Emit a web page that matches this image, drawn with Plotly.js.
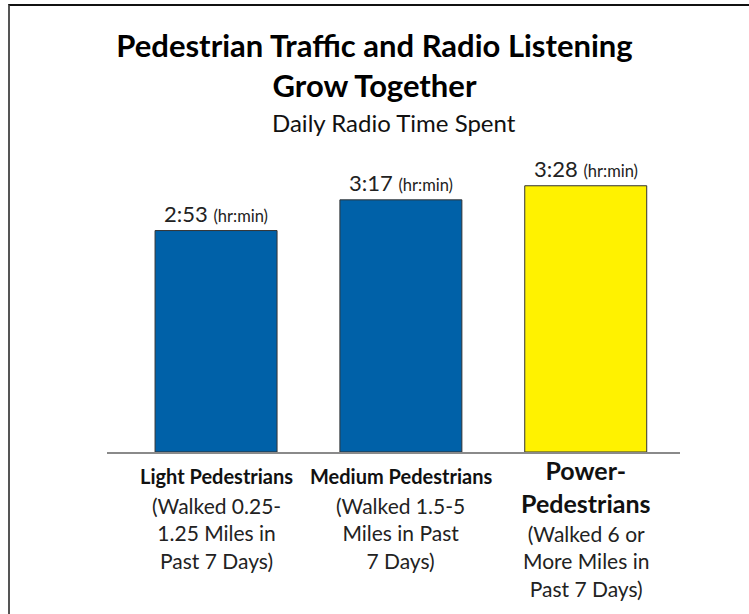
<!DOCTYPE html>
<html>
<head>
<meta charset="utf-8">
<script src="https://cdn.plot.ly/plotly-3.0.1.min.js"></script>
<style>
  html, body { margin: 0; padding: 0; background: #fff; }
  #wrap { position: relative; width: 749px; height: 614px; overflow: hidden; }
  #chart { width: 749px; height: 614px; }
  #frame { position: absolute; left: 8px; top: 4px; width: 760px; height: 640px;
           border-left: 2px solid #555; border-top: 2px solid #111; pointer-events: none; }
</style>
</head>
<body>
<div id="wrap">
  <div id="chart"></div>
  <div id="frame"></div>
</div>
<script>
// ---- data ----
const categories = ['Light Pedestrians', 'Medium Pedestrians', 'Power-Pedestrians'];
const minutesPerDay = [173, 197, 208];           // 2:53, 3:17, 3:28
const timeLabels = ['2:53', '3:17', '3:28'];
const unitLabel = '(hr:min)';
const catHeaders = ['Light Pedestrians', 'Medium Pedestrians', 'Power-<br>Pedestrians'];
const catDetails = [
  '(Walked 0.25-<br>1.25 Miles in<br>Past 7 Days)',
  '(Walked 1.5-5<br>Miles in Past<br>7 Days)',
  '(Walked 6 or<br>More Miles in<br>Past 7 Days)'
];
const titleText = 'Pedestrian Traffic and Radio Listening<br>Grow Together';
const subtitleText = 'Daily Radio Time Spent';

// ---- styles ----
const FONT = 'Lato, "Noto Sans", sans-serif';
const barColors = ['#0061a8', '#0061a8', '#fff200'];
const headerSizes = [20, 20, 25];
const headerShift = [-10, -10, -1];
const detailShift = [-39, -39, -67];

const trace = {
  type: 'bar',
  x: categories,
  y: minutesPerDay,
  width: 0.66,
  marker: { color: barColors, line: { color: '#333', width: 1 } },
  hoverinfo: 'skip'
};

const annotations = [];
categories.forEach((c, i) => {
  annotations.push({
    x: c, y: minutesPerDay[i], xref: 'x', yref: 'y',
    yanchor: 'bottom', yshift: 2, showarrow: false,
    text: timeLabels[i] + ' <span style="font-size:16.5px">' + unitLabel + '</span>',
    font: { family: FONT, size: 22, color: '#222' }
  });
  annotations.push({
    x: c, y: 0, xref: 'x', yref: 'paper',
    yanchor: 'top', yshift: headerShift[i], showarrow: false,
    text: '<b>' + catHeaders[i] + '</b>',
    font: { family: FONT, size: headerSizes[i], color: '#111' }
  });
  annotations.push({
    x: c, y: 0, xref: 'x', yref: 'paper',
    yanchor: 'top', yshift: detailShift[i], showarrow: false,
    text: catDetails[i],
    font: { family: FONT, size: 21, color: '#222' }
  });
});
annotations.push({
  x: 0.5, y: 0.89, xref: 'paper', yref: 'paper',
  xanchor: 'center', yanchor: 'bottom', showarrow: false,
  text: subtitleText,
  font: { family: FONT, size: 24, color: '#111' }
});

const layout = {
  width: 749, height: 614,
  margin: { l: 107, r: 69, t: 100, b: 162 },
  paper_bgcolor: '#fff', plot_bgcolor: '#fff',
  showlegend: false,
  title: {
    text: '<b>' + titleText + '</b>',
    x: 0.5, xref: 'container', xanchor: 'center',
    y: 1 - 57 / 614, yref: 'container', yanchor: 'top',
    font: { family: FONT, size: 31, color: '#000' }
  },
  xaxis: {
    type: 'category', range: [-0.59, 2.51],
    showline: true, linecolor: '#8a8a8a', linewidth: 1.5,
    showticklabels: false, ticks: '', showgrid: false, zeroline: false, fixedrange: true
  },
  yaxis: {
    range: [0, 275], visible: false, showgrid: false, zeroline: false, fixedrange: true
  },
  annotations: annotations
};

Plotly.newPlot('chart', [trace], layout, { displayModeBar: false, staticPlot: true });
</script>
</body>
</html>
